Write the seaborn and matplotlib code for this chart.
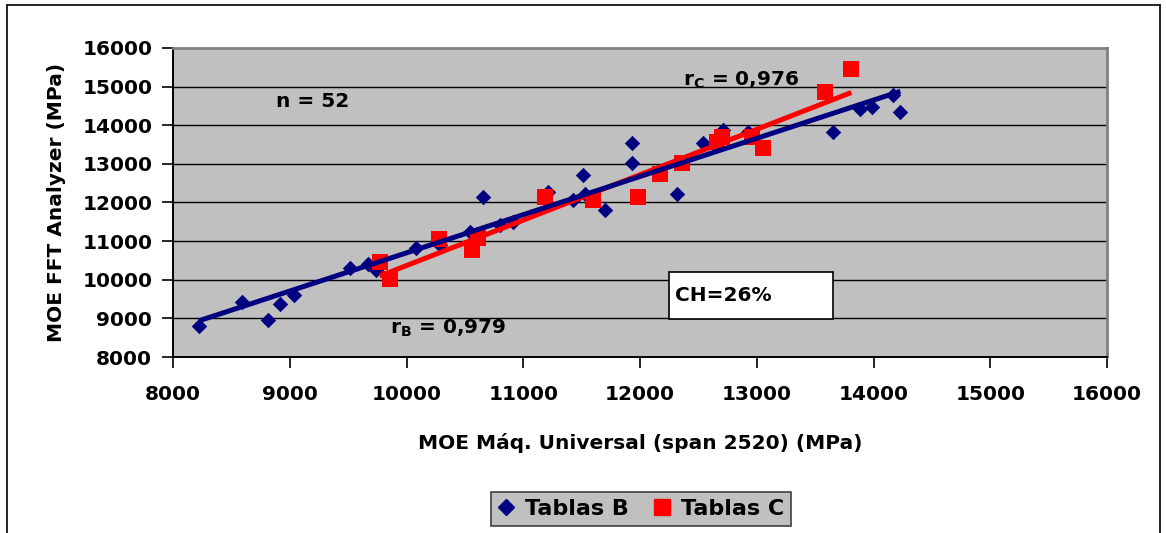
import numpy as np
import pandas as pd
import matplotlib
matplotlib.use("Agg")
import matplotlib.pyplot as plt
from matplotlib.lines import Line2D
from matplotlib.patches import Rectangle
import seaborn as sns

# Board group B (diamonds)
b_universal = [8220, 8590, 8810, 8915, 9040, 9520, 9670, 9740, 10085, 10285,
               10540, 10655, 10800, 10910, 11210, 11425, 11510, 11530, 11700, 11930,
               11930, 12315, 12540, 12710, 12925, 13650, 13885, 13990, 14170, 14230]
b_fft = [8790, 9415, 8950, 9365, 9600, 10300, 10420, 10240, 10810, 10890,
         11225, 12130, 11410, 11490, 12265, 12060, 12700, 12210, 11800, 13540,
         13015, 12210, 13540, 13870, 13820, 13820, 14410, 14470, 14780, 14340]

# Board group C (squares)
c_universal = [9770, 9855, 10275, 10560, 10610, 11185, 11595, 11985, 12170, 12360,
               12660, 12700, 12960, 13055, 13585, 13810]
c_fft = [10450, 10030, 11050, 10760, 11090, 12135, 12060, 12135, 12730, 13015,
         13560, 13700, 13690, 13400, 14870, 15460]

x_ticks = [8000, 9000, 10000, 11000, 12000, 13000, 14000, 15000, 16000]
y_ticks = [8000, 9000, 10000, 11000, 12000, 13000, 14000, 15000, 16000]

df = pd.concat([
    pd.DataFrame({"universal": b_universal, "fft": b_fft, "grupo": "Tablas B"}),
    pd.DataFrame({"universal": c_universal, "fft": c_fft, "grupo": "Tablas C"}),
], ignore_index=True)

sns.set_theme(style="white")
plt.rcParams["font.family"] = ["DejaVu Sans"]
plt.rcParams["mathtext.fontset"] = "dejavusans"
for key in ["text.color", "axes.labelcolor", "xtick.color", "ytick.color"]:
    plt.rcParams[key] = "black"

NAVY = "#000080"
RED = "#FF0000"
FS = 14.5

fig = plt.figure(figsize=(11.66, 5.33), dpi=100)
ax = fig.add_axes([0.1484, 0.3302, 0.9494 - 0.1484, 0.910 - 0.3302])
ax.set_facecolor("#C0C0C0")

# horizontal grid lines
for yv in y_ticks[1:-1]:
    ax.axhline(yv, color="black", lw=1.0, zorder=1)

dfb = df[df.grupo == "Tablas B"]
dfc = df[df.grupo == "Tablas C"]

sns.scatterplot(data=dfb, x="universal", y="fft", ax=ax, marker="D", s=62,
                color=NAVY, edgecolor=NAVY, linewidth=0, zorder=3, legend=False)
sns.scatterplot(data=dfc, x="universal", y="fft", ax=ax, marker="s", s=120,
                color=RED, edgecolor=RED, linewidth=0, zorder=4, legend=False)
sns.regplot(data=dfb, x="universal", y="fft", ax=ax, scatter=False, ci=None,
            line_kws=dict(color=NAVY, lw=3.6, zorder=6, solid_capstyle="butt"))
sns.regplot(data=dfc, x="universal", y="fft", ax=ax, scatter=False, ci=None,
            line_kws=dict(color=RED, lw=3.6, zorder=5, solid_capstyle="butt"))

ax.set_xlim(8000, 16000)
ax.set_ylim(8000, 16000)
ax.set_xticks(x_ticks)
ax.set_yticks(y_ticks)
ax.set_xticklabels([str(v) for v in x_ticks], fontsize=FS, fontweight="bold")
ax.set_yticklabels([str(v) for v in y_ticks], fontsize=FS, fontweight="bold")
ax.tick_params(axis="x", direction="out", length=8, width=1.2, color="black",
               pad=12, bottom=True)
ax.tick_params(axis="y", direction="out", length=8, width=1.2, color="black",
               pad=7, left=True)

ax.set_xlabel("MOE Máq. Universal (span 2520) (MPa)", fontsize=FS, fontweight="bold",
              labelpad=21)
ax.set_ylabel("MOE FFT Analyzer (MPa)", fontsize=FS, fontweight="bold", labelpad=12)

for side in ["left", "bottom"]:
    ax.spines[side].set_color("black")
    ax.spines[side].set_linewidth(1.4)
for side in ["top", "right"]:
    ax.spines[side].set_color("#808080")
    ax.spines[side].set_linewidth(2.0)

# annotations
ax.text(8882, 14622, "n = 52", fontsize=FS, fontweight="bold", va="center", ha="left",
        zorder=7)
ax.text(12367, 15166, r"r$_{\mathbf{C}}$ = 0,976", fontsize=FS, fontweight="bold",
        va="center", ha="left", zorder=7)
ax.text(9857, 8743, r"r$_{\mathbf{B}}$ = 0,979", fontsize=FS, fontweight="bold",
        va="center", ha="left", zorder=7)

ax.add_patch(Rectangle((0.5307, 0.1226), 0.1755, 0.1516, transform=ax.transAxes,
                       facecolor="white", edgecolor="black", lw=1.2, zorder=7))
ax.text(0.5375, 0.1984, "CH=26%", transform=ax.transAxes, fontsize=FS,
        fontweight="bold", va="center", ha="left", zorder=8)

handles = [
    Line2D([], [], marker="D", ls="none", color=NAVY, markersize=8),
    Line2D([], [], marker="s", ls="none", color=RED, markersize=11),
]
leg = fig.legend(handles, ["Tablas B", "Tablas C"], loc="center",
                 bbox_to_anchor=(0.5497, 0.045), ncol=2, frameon=True,
                 fancybox=False, prop=dict(size=FS + 1.5, weight="bold"),
                 handlelength=0.8, handletextpad=0.45, columnspacing=1.1,
                 borderpad=0.3, borderaxespad=0.0)
leg.get_frame().set_facecolor("#C0C0C0")
leg.get_frame().set_edgecolor("#404040")
leg.get_frame().set_linewidth(1.2)
leg.get_frame().set_alpha(1)

# outer chart frame
for xs, ys in [([0.006, 0.006], [0.0, 0.99]), ([0.006, 0.995], [0.99, 0.99]),
               ([0.995, 0.995], [0.0, 0.99])]:
    fig.add_artist(Line2D(xs, ys, transform=fig.transFigure, color="black", lw=1.2))

fig.savefig("out.png", dpi=100)
